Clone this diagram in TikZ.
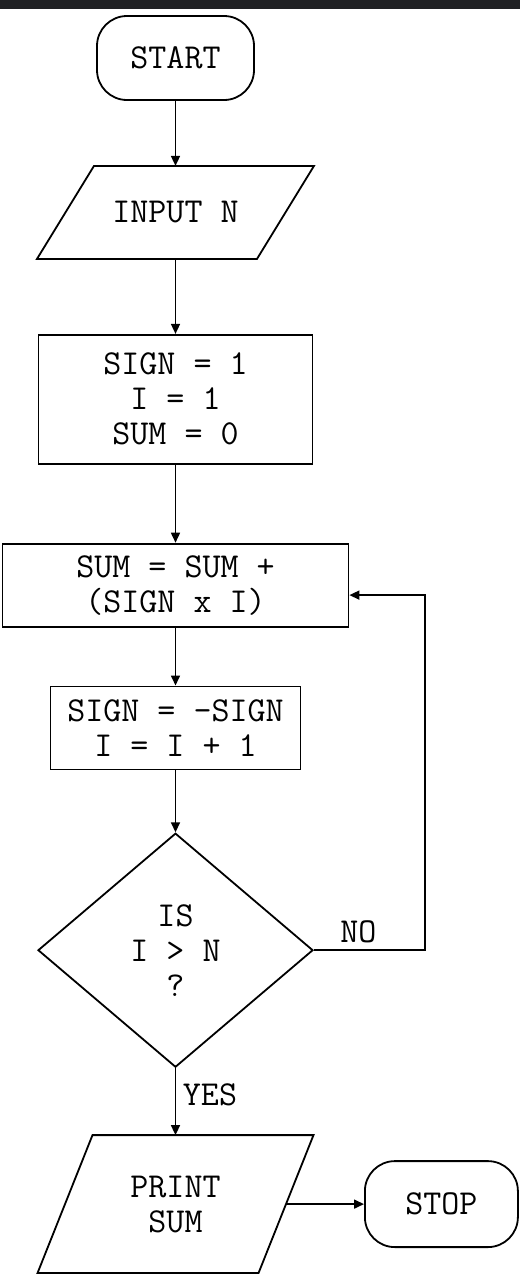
\documentclass[tikz,border=0pt]{standalone}
\usepackage{fontspec}
\usetikzlibrary{positioning,arrows.meta,shapes.geometric,calc}
\definecolor{barcol}{HTML}{202124}
% outline of a slanted input/output box around a named node
\newcommand{\slantframe}[2]{%
  \draw ([xshift=#2]#1.north west) -- ([xshift=#2]#1.north east)
     -- ([xshift=-#2]#1.south east) -- ([xshift=-#2]#1.south west) -- cycle;}

\begin{document}
\begin{tikzpicture}[
  font=\ttfamily\fontsize{17.5pt}{17.5pt}\selectfont,
  line width=0.9pt,
  node distance=32pt,
  box/.style={rectangle,draw=black,align=center,inner sep=4pt},
  term/.style={box,rounded corners=15pt,minimum width=78.5pt,minimum height=42pt},
  io/.style={rectangle,align=center,inner sep=2pt,outer sep=0pt},
  decide/.style={diamond,draw=black,align=center,inner sep=0pt,
                 minimum width=137.5pt,minimum height=117pt},
  arr/.style={-{Triangle[length=5pt,width=4.5pt]},line width=0.8pt},
]
\useasboundingbox (0,0) rectangle (260pt,-637pt);
\fill[barcol] (0,0) rectangle (260pt,-4.5pt);

\node[term] (start) at (87.75pt,-29pt) {START};
\node[io,below=32.5pt of start,minimum width=110pt,minimum height=46.5pt] (inp) {INPUT N};
\node[box,below=37.5pt of inp,minimum width=137pt,minimum height=64.5pt] (init)
   {SIGN = 1\\I = 1\\SUM = 0};
\node[box,below=39pt of init,minimum width=173pt,minimum height=41.5pt] (sum)
   {SUM = SUM +\\(SIGN x I)};
\node[box,below=29pt of sum,minimum width=125pt,minimum height=41.5pt] (upd)
   {SIGN = -SIGN\\I = I + 1};
\node[decide,below=31pt of upd] (test) {IS\\I > N\\?};
\node[io,below=33.5pt of test,minimum width=110.5pt,minimum height=69pt] (out) {PRINT\\SUM};
\node[term,right=39pt of out,minimum width=76.5pt,minimum height=43pt] (stop) {STOP};

\slantframe{inp}{14.25pt}
\slantframe{out}{13.75pt}

\draw[arr] (start) -- (inp);
\draw[arr] (inp) -- (init);
\draw[arr] (init) -- (sum);
\draw[arr] (sum) -- (upd);
\draw[arr] (upd) -- (test);
\draw[arr] (test) -- node[right,pos=0.4] {YES} (out);
% loop back when I is not yet past N
\draw[arr] (test.east) -- node[above,pos=0.4] {NO} ++(55.5pt,0) |- ([yshift=-5pt]sum.east);
\draw[arr] (out.east) -- (stop.west);
\end{tikzpicture}
\end{document}
